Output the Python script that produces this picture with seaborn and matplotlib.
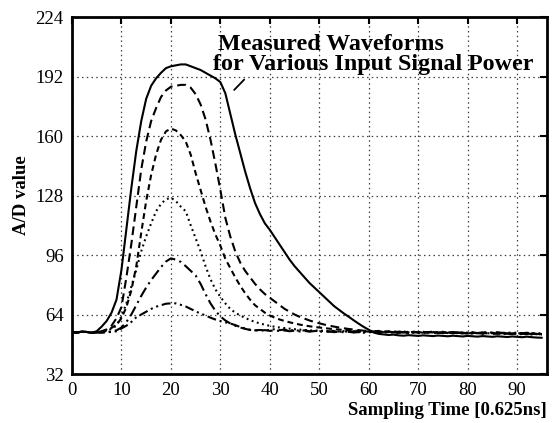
import numpy as np
import pandas as pd
import matplotlib
matplotlib.use("Agg")
import matplotlib.pyplot as plt
import seaborn as sns

# ---------------- data ----------------
sample = np.arange(96)

p1_solid = [54.5, 54.3, 54.8, 54.6, 54.2, 55.0, 57.5, 60.5, 65.0, 72.0,
            88, 110, 132, 152, 168, 180, 187, 191, 194, 196.5,
            197.5, 198, 198.5, 198.5, 197.5, 196.5, 195.5, 194, 192.5, 191,
            189, 183, 172, 161, 151, 141, 132, 124, 118, 113,
            109.5, 105.5, 101.5, 97.5, 93.5, 90, 87, 84, 81, 78.5,
            76, 73.5, 71, 68.5, 66.5, 64.5, 62.7, 60.8, 59, 57.3,
            55.8, 54.3, 53.6, 53.3, 53.0, 53.2, 52.8, 52.6, 52.9, 52.7,
            52.5, 52.8, 52.6, 52.4, 52.7, 52.5, 52.3, 52.6, 52.4, 52.2,
            52.5, 52.3, 52.1, 52.4, 52.2, 52.0, 52.3, 52.1, 51.9, 52.2,
            52.0, 51.8, 52.1, 51.8, 51.6, 51.5]

p2_long_dash = [54.5, 54.3, 54.8, 54.6, 54.2, 54.4, 55.0, 56.0, 58.0, 62.0,
                68, 84, 102, 122, 142, 157, 168, 175, 181, 184.5,
                186.5, 187, 187.5, 187.5, 186, 182.5, 177, 169, 158, 145,
                131, 116, 106, 98, 92, 87.5, 84, 80.5, 77.5, 75,
                73, 71, 69, 67, 65.5, 64, 62.8, 61.8, 60.8, 60,
                59.3, 58.6, 58.0, 57.5, 57.0, 56.6, 56.2, 55.9, 55.6, 55.3,
                55.1, 54.8, 55.2, 54.6, 54.9, 54.4, 54.8, 54.5, 54.2, 54.7,
                54.4, 54.1, 54.6, 54.3, 54.0, 54.5, 54.2, 53.9, 54.4, 54.1,
                53.8, 54.3, 54.0, 53.7, 54.2, 53.9, 53.6, 54.1, 53.8, 53.5,
                54.0, 53.7, 53.4, 53.9, 53.6, 53.3]

p3_short_dash = [54.5, 54.3, 54.8, 54.6, 54.2, 54.4, 54.8, 55.5, 56.8, 58.5,
                 62, 68, 77, 90, 108, 125, 139, 150, 158, 162.5,
                 164, 163, 160.5, 157, 150, 140, 131, 122, 114, 107,
                 101, 94, 89, 84, 79.5, 75.5, 72, 69, 67, 65,
                 63.5, 62.3, 61.3, 60.5, 59.8, 59.2, 58.6, 58.1, 57.7, 57.3,
                 57.0, 56.7, 56.4, 56.1, 55.9, 55.7, 55.5, 55.3, 55.1, 55.0,
                 54.8, 55.2, 54.7, 55.1, 54.6, 55.0, 54.5, 54.9, 54.4, 54.8,
                 54.3, 54.7, 54.2, 54.6, 54.1, 54.5, 54.0, 54.4, 53.9, 54.3,
                 53.8, 54.2, 53.9, 54.3, 53.8, 54.1, 53.7, 54.0, 53.6, 53.9,
                 53.5, 53.8, 53.4, 53.7, 53.3, 53.5]

p4_dotted = [54.5, 54.3, 54.8, 54.6, 54.2, 54.4, 54.6, 55.2, 56.3, 58.0,
             63, 70, 79, 88, 98, 106, 113, 119.5, 123.5, 126,
             126.8, 125, 122, 119.5, 112, 105, 98, 90, 83, 77.5,
             73.5, 70, 67, 65, 63.5, 62.2, 61, 60, 59.2, 58.5,
             57.9, 57.4, 57.0, 56.7, 56.4, 56.1, 55.9, 55.7, 55.5, 55.3,
             55.4, 55.2, 55.0, 55.3, 54.8, 55.1, 54.7, 55.0, 54.6, 54.9,
             54.5, 54.8, 54.4, 54.7, 54.3, 54.6, 54.2, 54.5, 54.1, 54.4,
             54.0, 54.3, 54.6, 54.2, 54.5, 54.1, 54.4, 54.0, 54.3, 53.9,
             54.2, 53.8, 54.1, 53.7, 54.0, 53.6, 53.9, 53.5, 53.8, 53.4,
             53.7, 53.3, 53.6, 53.2, 53.5, 53.1]

p5_dash_dot = [54.5, 54.3, 54.8, 54.6, 54.2, 54.4, 54.3, 54.5, 54.9, 55.5,
               57, 60, 64, 69, 74, 78.5, 82.5, 86, 89.5, 92.5,
               94.2, 93.5, 92.3, 90, 87.5, 85, 80.5, 75, 70, 66,
               63, 60.8, 59.2, 58, 57, 56.3, 55.7, 55.5, 55.3, 55.6,
               55.2, 55.5, 55.1, 55.4, 55.0, 55.3, 54.9, 55.2, 54.8, 55.1,
               55.0, 54.6, 54.9, 54.5, 54.8, 54.4, 54.7, 54.3, 54.6, 54.2,
               54.5, 54.8, 54.3, 54.6, 54.2, 54.5, 54.1, 54.4, 54.0, 54.3,
               54.6, 54.2, 54.5, 54.1, 54.4, 54.0, 54.3, 53.9, 54.2, 53.8,
               54.1, 53.7, 54.0, 54.3, 53.9, 54.2, 53.8, 54.1, 53.7, 54.0,
               53.6, 53.9, 53.5, 53.8, 53.4, 53.6]

p6_dash_dot_dot = [54.5, 54.3, 54.8, 54.6, 54.2, 54.4, 54.3, 54.5, 54.6, 55.0,
                   56.5, 58, 60, 62.5, 64, 65.5, 67, 68.2, 69, 69.8,
                   70, 70, 69.2, 68.3, 67, 65.7, 64.5, 63.5, 62.3, 61.3,
                   60.5, 59.8, 59.2, 58.3, 57.3, 56.5, 55.8, 55.5, 55.7, 55.4,
                   55.8, 56.1, 55.6, 55.9, 55.4, 55.7, 55.2, 55.5, 55.0, 55.3,
                   54.9, 55.2, 54.8, 55.1, 54.7, 55.0, 54.6, 54.9, 54.5, 54.8,
                   54.4, 54.7, 55.0, 54.6, 54.9, 54.5, 54.8, 54.4, 54.7, 54.3,
                   54.6, 54.2, 54.5, 54.8, 54.4, 54.7, 54.3, 54.6, 54.2, 54.5,
                   54.1, 54.4, 54.0, 54.3, 54.6, 54.2, 54.5, 54.1, 54.4, 54.0,
                   54.3, 53.9, 54.2, 53.8, 54.1, 53.7]

series_names = ["P1", "P2", "P3", "P4", "P5", "P6"]
series_values = [p1_solid, p2_long_dash, p3_short_dash, p4_dotted, p5_dash_dot, p6_dash_dot_dot]

x_ticks = [0, 10, 20, 30, 40, 50, 60, 70, 80, 90]
y_ticks = [32, 64, 96, 128, 160, 192, 224]

x_label = "Sampling Time [0.625ns]"
y_label = "A/D value"
note_line1 = "Measured Waveforms"
note_line2 = "for Various Input Signal Power"

# ---------------- table ----------------
frames = []
for name, vals in zip(series_names, series_values):
    n = len(vals)
    frames.append(pd.DataFrame({"t": sample[:n], "v": vals, "series": name}))
df = pd.concat(frames, ignore_index=True)

# ---------------- style ----------------
sns.set_style("white")
plt.rcParams["font.family"] = ["Liberation Serif", "DejaVu Serif"]
plt.rcParams["text.color"] = "black"
plt.rcParams["axes.labelcolor"] = "black"
plt.rcParams["xtick.color"] = "black"
plt.rcParams["ytick.color"] = "black"

fig = plt.figure(figsize=(5.58, 4.23), dpi=100)
ax = fig.add_axes([0.129, 0.1158, 0.851, 0.844])

dash_map = {
    "P1": "",
    "P2": (4.2, 2.3),
    "P3": (2.8, 1.9),
    "P4": (0.9, 1.7),
    "P5": (5.2, 2.1, 1.0, 2.1),
    "P6": (4.3, 1.8, 1.0, 1.8, 1.0, 1.8),
}

sns.lineplot(data=df, x="t", y="v", style="series", dashes=dash_map,
             color="black", linewidth=1.5, legend=False, ax=ax,
             estimator=None, sort=False)

ax.set_xlim(0, 96)
ax.set_ylim(32, 224)
ax.set_xticks(x_ticks)
ax.set_yticks(y_ticks)
ax.set_xticklabels([str(v) for v in x_ticks])
ax.set_yticklabels([str(v) for v in y_ticks])

ax.grid(True, linestyle=(0, (1.2, 2.6)), color="0.25", linewidth=0.9)
ax.set_axisbelow(True)
for sp in ax.spines.values():
    sp.set_visible(True)
    sp.set_linewidth(2.0)
    sp.set_color("black")

ax.tick_params(direction="in", top=True, right=True, length=5, width=1.5,
               labelsize=13.5, pad=6, colors="black")

ax.set_xlabel(x_label, fontsize=13.5, fontweight="bold", loc="right",
              labelpad=2, color="black")
ax.set_ylabel(y_label, fontsize=13.5, fontweight="bold", labelpad=4,
              color="black")

ax.text(29.6, 206.3, note_line1, fontsize=17.3, fontweight="bold",
        ha="left", va="baseline", color="black")
ax.text(28.6, 195.5, note_line2, fontsize=17.3, fontweight="bold",
        ha="left", va="baseline", color="black")
ax.annotate("", xy=(32.4, 183.7), xytext=(35.2, 191.4),
            arrowprops=dict(arrowstyle="-", color="black", lw=1.3))

fig.savefig("out.png", dpi=100)
